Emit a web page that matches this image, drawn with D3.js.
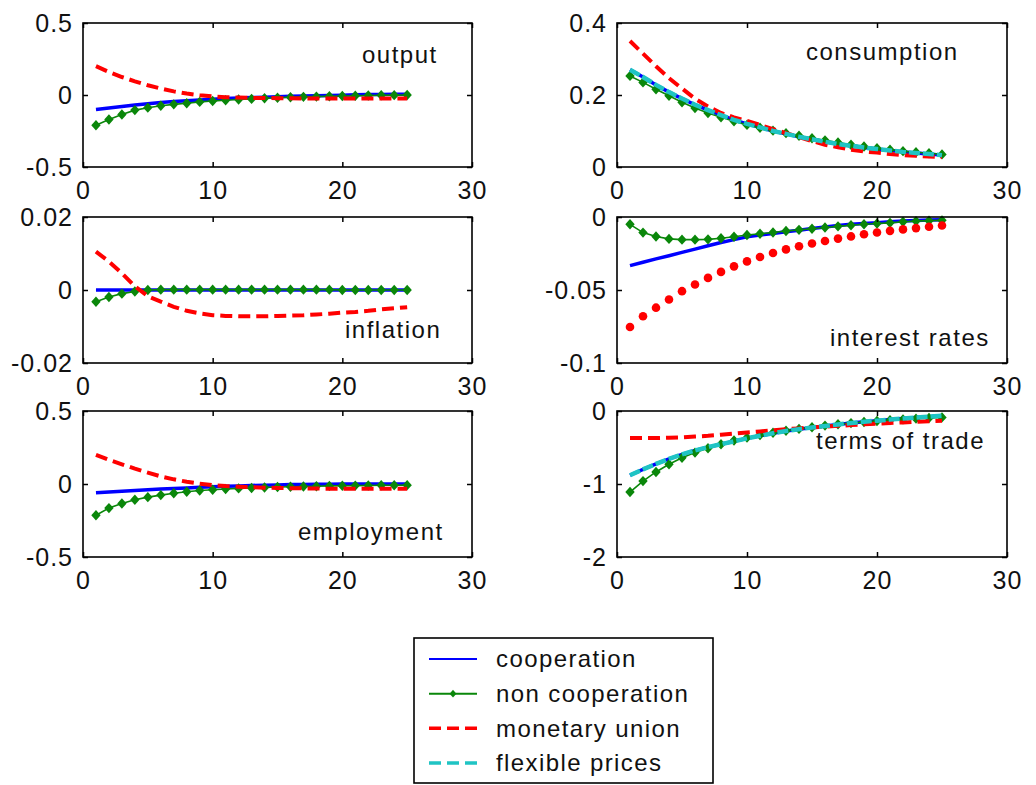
<!DOCTYPE html>
<html>
<head>
<meta charset="utf-8">
<script src="https://cdn.jsdelivr.net/npm/d3@7"></script>
<style>
  html, body { margin: 0; padding: 0; background: #fff; }
  svg { display: block; }
  text { font-family: "Liberation Sans", Arial, sans-serif; fill: #111; }
</style>
</head>
<body>
<svg id="chart" width="1036" height="785"></svg>
<script>
// Impulse responses over 25 periods for four policy regimes
const periods = [1,2,3,4,5,6,7,8,9,10,11,12,13,14,15,16,17,18,19,20,21,22,23,24,25];
const xTicks = [0, 10, 20, 30];

const seriesNames = ["cooperation", "non cooperation", "monetary union", "flexible prices"];

// output
const outputTicks = [-0.5, 0, 0.5];
const outputCoop = [-0.10,-0.09,-0.08,-0.07,-0.06,-0.052,-0.045,-0.04,-0.035,-0.03,-0.025,-0.021,-0.018,-0.015,-0.012,-0.009,-0.007,-0.005,-0.003,-0.001,0.001,0.003,0.004,0.005,0.006];
const outputNonCoop = [-0.21,-0.17,-0.135,-0.105,-0.088,-0.075,-0.065,-0.057,-0.048,-0.042,-0.036,-0.031,-0.027,-0.023,-0.019,-0.016,-0.013,-0.011,-0.009,-0.007,-0.005,-0.003,-0.002,-0.001,0];
const outputUnion = [0.20,0.16,0.125,0.095,0.068,0.045,0.025,0.01,-0.002,-0.01,-0.015,-0.018,-0.02,-0.021,-0.022,-0.023,-0.024,-0.024,-0.025,-0.025,-0.025,-0.025,-0.025,-0.025,-0.025];

// consumption
const consumptionTicks = [0, 0.2, 0.4];
const consumptionCoop = [0.27,0.25,0.228,0.208,0.19,0.173,0.158,0.144,0.131,0.12,0.11,0.1,0.092,0.084,0.077,0.07,0.064,0.059,0.054,0.05,0.046,0.042,0.039,0.036,0.033];
const consumptionNonCoop = [0.253,0.235,0.216,0.198,0.18,0.164,0.15,0.138,0.127,0.117,0.109,0.101,0.094,0.087,0.08,0.074,0.068,0.062,0.057,0.052,0.048,0.044,0.041,0.038,0.035];
const consumptionUnion = [0.35,0.315,0.28,0.247,0.218,0.19,0.168,0.15,0.138,0.128,0.117,0.105,0.094,0.083,0.072,0.062,0.055,0.048,0.043,0.04,0.036,0.033,0.031,0.029,0.028];
const consumptionFlex = [0.27,0.25,0.228,0.208,0.19,0.173,0.158,0.144,0.131,0.12,0.11,0.1,0.092,0.084,0.077,0.07,0.064,0.059,0.054,0.05,0.046,0.042,0.039,0.036,0.033];

// inflation
const inflationTicks = [-0.02, 0, 0.02];
const inflationCoop = [0,0,0,0,0,0,0,0,0,0,0,0,0,0,0,0,0,0,0,0,0,0,0,0,0];
const inflationNonCoop = [-0.0032,-0.0019,-0.001,-0.0004,0,0.0001,0.0001,0.0001,0.0001,0.0001,0.0001,0.0001,0.0001,0.0001,0.0001,0.0001,0.0001,0.0001,0.0001,0,0,0,0,0,0];
const inflationUnion = [0.0105,0.0078,0.0046,0.001,-0.0017,-0.0032,-0.0046,-0.0057,-0.0064,-0.0069,-0.0071,-0.0072,-0.0072,-0.0072,-0.0071,-0.007,-0.0069,-0.0067,-0.0065,-0.0062,-0.006,-0.0057,-0.0053,-0.005,-0.0047];

// interest rates
const interestTicks = [-0.1, -0.05, 0];
const interestCoop = [-0.0333,-0.031,-0.0287,-0.0265,-0.0242,-0.022,-0.0197,-0.0175,-0.0155,-0.0136,-0.0124,-0.0113,-0.0101,-0.009,-0.0079,-0.0068,-0.0059,-0.005,-0.0045,-0.004,-0.0033,-0.0027,-0.0024,-0.0021,-0.0019];
const interestNonCoop = [-0.005,-0.0107,-0.0134,-0.015,-0.0155,-0.0155,-0.0153,-0.0146,-0.0135,-0.0123,-0.0115,-0.0106,-0.0096,-0.0088,-0.008,-0.0072,-0.0064,-0.0057,-0.005,-0.0045,-0.004,-0.0033,-0.0028,-0.0025,-0.0023];
const interestUnion = [-0.0753,-0.068,-0.0621,-0.0565,-0.0508,-0.0462,-0.0417,-0.0376,-0.0338,-0.0304,-0.0274,-0.0247,-0.0222,-0.02,-0.0181,-0.0164,-0.0148,-0.0133,-0.0118,-0.0106,-0.0095,-0.0085,-0.0076,-0.0067,-0.0058];

// employment
const employmentTicks = [-0.5, 0, 0.5];
const employmentCoop = [-0.06,-0.055,-0.05,-0.045,-0.04,-0.035,-0.031,-0.027,-0.023,-0.019,-0.016,-0.013,-0.01,-0.008,-0.006,-0.004,-0.003,-0.002,-0.001,0,0,0,0,0,0];
const employmentNonCoop = [-0.214,-0.165,-0.134,-0.108,-0.09,-0.076,-0.063,-0.053,-0.045,-0.039,-0.034,-0.03,-0.027,-0.024,-0.021,-0.019,-0.017,-0.015,-0.013,-0.012,-0.011,-0.01,-0.009,-0.009,-0.008];
const employmentUnion = [0.2,0.165,0.135,0.105,0.078,0.052,0.032,0.015,0.002,-0.008,-0.014,-0.018,-0.022,-0.025,-0.027,-0.029,-0.03,-0.031,-0.032,-0.032,-0.033,-0.033,-0.033,-0.033,-0.033];

// terms of trade
const totTicks = [-2, -1, 0];
const totCoop = [-0.88,-0.8,-0.725,-0.655,-0.595,-0.54,-0.495,-0.455,-0.415,-0.375,-0.34,-0.305,-0.275,-0.25,-0.225,-0.205,-0.185,-0.165,-0.148,-0.132,-0.117,-0.103,-0.09,-0.078,-0.065];
const totNonCoop = [-1.11,-0.96,-0.835,-0.73,-0.64,-0.57,-0.51,-0.455,-0.405,-0.365,-0.33,-0.298,-0.27,-0.245,-0.222,-0.2,-0.182,-0.166,-0.15,-0.137,-0.125,-0.115,-0.105,-0.095,-0.088];
const totUnion = [-0.37,-0.37,-0.37,-0.365,-0.36,-0.35,-0.34,-0.325,-0.31,-0.295,-0.28,-0.265,-0.25,-0.238,-0.226,-0.214,-0.203,-0.193,-0.183,-0.174,-0.165,-0.156,-0.148,-0.14,-0.133];
const totFlex = [-0.88,-0.8,-0.725,-0.655,-0.595,-0.54,-0.495,-0.455,-0.415,-0.375,-0.34,-0.305,-0.275,-0.25,-0.225,-0.205,-0.185,-0.165,-0.148,-0.132,-0.117,-0.103,-0.09,-0.078,-0.065];

const panels = [
  { title: "output",         ticks: outputTicks,      coop: outputCoop,      nonCoop: outputNonCoop,      union: outputUnion,      flex: null },
  { title: "consumption",    ticks: consumptionTicks, coop: consumptionCoop, nonCoop: consumptionNonCoop, union: consumptionUnion, flex: consumptionFlex },
  { title: "inflation",      ticks: inflationTicks,   coop: inflationCoop,   nonCoop: inflationNonCoop,   union: inflationUnion,   flex: null },
  { title: "interest rates", ticks: interestTicks,    coop: interestCoop,    nonCoop: interestNonCoop,    union: interestUnion,    flex: null },
  { title: "employment",     ticks: employmentTicks,  coop: employmentCoop,  nonCoop: employmentNonCoop,  union: employmentUnion,  flex: null },
  { title: "terms of trade", ticks: totTicks,         coop: totCoop,         nonCoop: totNonCoop,         union: totUnion,         flex: totFlex }
];

// ---- layout & style ----
const cols = [[83, 472], [617, 1007]];
const rows = [[23, 167], [217, 363], [411, 557]];
const titlePos = [[362, 63], [806, 60], [345, 338], [830, 346], [298, 540], [816, 449]];
const dottedUnion = { "interest rates": true };

const colors = { coop: "#0000ff", nonCoop: "#0a870a", union: "#ff0000", flex: "#1fc4c4" };
const FONT = 24;

const svg = d3.select("#chart");

const diamond = (s, w) => `M0,${-s}L${s * w},0L0,${s}L${-s * w},0Z`;

panels.forEach((p, i) => {
  const [x0, x1] = cols[i % 2];
  const [yTop, yBot] = rows[Math.floor(i / 2)];
  const x = d3.scaleLinear().domain([0, 30]).range([x0, x1]);
  const y = d3.scaleLinear().domain([p.ticks[0], p.ticks[p.ticks.length - 1]]).range([yBot, yTop]);

  const g = svg.append("g");

  // curves
  const line = d3.line().x((d, k) => x(periods[k])).y(d => y(d));

  g.append("path").datum(p.coop).attr("d", line)
    .attr("fill", "none").attr("stroke", colors.coop).attr("stroke-width", 3.5);

  g.append("path").datum(p.nonCoop).attr("d", line)
    .attr("fill", "none").attr("stroke", colors.nonCoop).attr("stroke-width", 1.6);
  g.selectAll(".mk").data(p.nonCoop).enter().append("path")
    .attr("d", diamond(5.2, 0.9))
    .attr("transform", (d, k) => `translate(${x(periods[k])},${y(d)})`)
    .attr("fill", colors.nonCoop);

  if (dottedUnion[p.title]) {
    g.selectAll(".dot").data(p.union).enter().append("circle")
      .attr("cx", (d, k) => x(periods[k])).attr("cy", d => y(d)).attr("r", 4.3)
      .attr("fill", colors.union);
  } else {
    g.append("path").datum(p.union).attr("d", line)
      .attr("fill", "none").attr("stroke", colors.union).attr("stroke-width", 4)
      .attr("stroke-dasharray", "12,6");
  }

  if (p.flex) {
    g.append("path").datum(p.flex).attr("d", line)
      .attr("fill", "none").attr("stroke", colors.flex).attr("stroke-width", 4.5)
      .attr("stroke-dasharray", "11,3");
  }

  // axes with inward ticks on all four sides
  const styleAxis = (sel) => {
    sel.select(".domain").remove();
    sel.selectAll(".tick line").attr("stroke", "#000").attr("stroke-width", 1.5);
    sel.selectAll(".tick text").attr("fill", "#111")
      .style("font-family", '"Liberation Sans", Arial, sans-serif')
      .style("font-size", FONT + 1 + "px").style("letter-spacing", "1px");
  };

  g.append("g").attr("transform", `translate(0,${yBot})`)
    .call(d3.axisBottom(x).tickValues(xTicks).tickSizeInner(-5).tickSizeOuter(0).tickPadding(14).tickFormat(String))
    .call(styleAxis);
  g.append("g").attr("transform", `translate(0,${yTop})`)
    .call(d3.axisTop(x).tickValues(xTicks).tickSizeInner(-5).tickSizeOuter(0).tickFormat(""))
    .call(styleAxis);
  g.append("g").attr("transform", `translate(${x0},0)`)
    .call(d3.axisLeft(y).tickValues(p.ticks).tickSizeInner(-5).tickSizeOuter(0).tickPadding(10).tickFormat(String))
    .call(styleAxis);
  g.append("g").attr("transform", `translate(${x1},0)`)
    .call(d3.axisRight(y).tickValues(p.ticks).tickSizeInner(-5).tickSizeOuter(0).tickFormat(""))
    .call(styleAxis);

  g.selectAll(".tick text").attr("font-size", null);

  g.append("rect").attr("x", x0).attr("y", yTop).attr("width", x1 - x0).attr("height", yBot - yTop)
    .attr("fill", "none").attr("stroke", "#000").attr("stroke-width", 1.6);

  g.append("text").attr("x", titlePos[i][0]).attr("y", titlePos[i][1])
    .style("font-size", FONT + "px").style("letter-spacing", "1.5px")
    .text(p.title);
});

// ---- legend ----
const legend = svg.append("g");
legend.append("rect").attr("x", 414).attr("y", 638).attr("width", 299).attr("height", 145)
  .attr("fill", "#fff").attr("stroke", "#000").attr("stroke-width", 1.6);

const legendKeys = ["coop", "nonCoop", "union", "flex"];
const legendY = d3.scalePoint().domain(seriesNames).range([659, 763]);

seriesNames.forEach((name, k) => {
  const key = legendKeys[k];
  const ly = legendY(name);
  const seg = legend.append("line").attr("x1", 429).attr("x2", 477).attr("y1", ly).attr("y2", ly)
    .attr("stroke", colors[key]);
  if (key === "coop") seg.attr("stroke-width", 2);
  if (key === "nonCoop") {
    seg.attr("stroke-width", 2);
    legend.append("path").attr("d", diamond(3.8, 0.9)).attr("transform", `translate(453,${ly})`).attr("fill", colors.nonCoop);
  }
  if (key === "union" || key === "flex") seg.attr("stroke-width", 3.5).attr("stroke-dasharray", "12,6");
  legend.append("text").attr("x", 496).attr("y", ly).attr("dy", "0.35em")
    .style("font-size", FONT + "px").style("letter-spacing", "1.4px")
    .text(name);
});
</script>
</body>
</html>
